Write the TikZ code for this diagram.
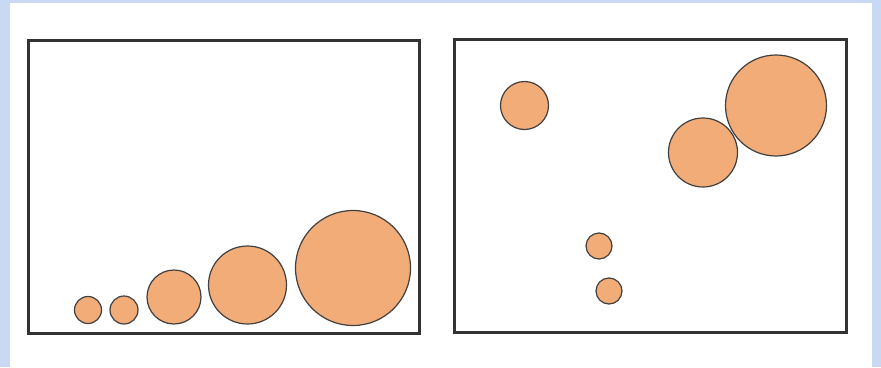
\documentclass[tikz,border=0pt]{standalone}
\begin{document}
\begin{tikzpicture}[x=1pt,y=-1pt,
  ball/.style={circle,draw=black!75,line width=1.2pt,fill=ballfill,inner sep=0pt,minimum size=#1},
  frame/.style={draw=black!80,line width=3pt}]
\definecolor{ballfill}{HTML}{F2AC78}
\definecolor{bgblue}{HTML}{C9D9F4}
\useasboundingbox (0,0) rectangle (881,367);
\fill[bgblue] (0,0) rectangle (881,367);
\fill[white] (10,3) rectangle (872,367);
% frames
\draw[frame] (28,40) rectangle (419,333);
\draw[frame] (454,39) rectangle (846,332);
% left panel
\node[ball=27pt]  (l1) at (88,310) {};
\node[ball=28pt]  (l2) at (124,310) {};
\node[ball=54pt]  (l3) at (174,297) {};
\node[ball=78pt]  (l4) at (247.5,285) {};
\node[ball=115pt] (l5) at (353,268) {};
% right panel
\node[ball=48pt]  (r1) at (524.5,105.5) {};
\node[ball=69pt]  (r2) at (703,152.5) {};
\node[ball=101pt] (r3) at (776,105.5) {};
\node[ball=26pt]  (r4) at (599,246) {};
\node[ball=26pt]  (r5) at (609,291) {};
\end{tikzpicture}
\end{document}
